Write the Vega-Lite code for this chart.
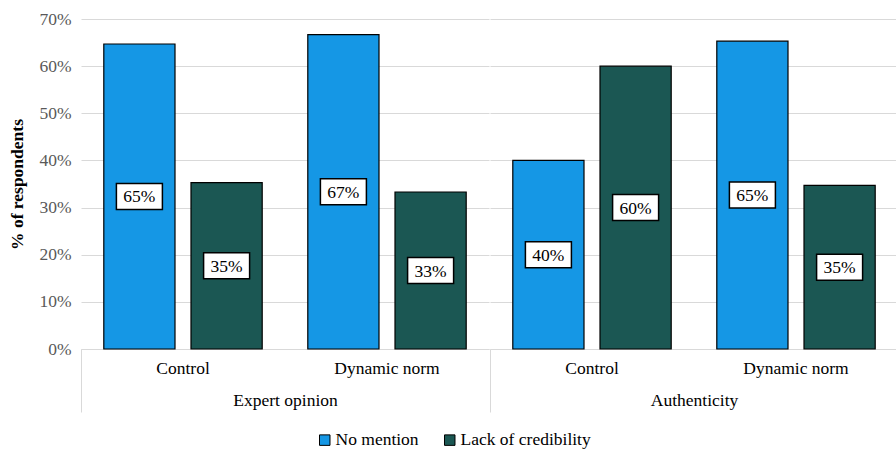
{
  "$schema": "https://vega.github.io/schema/vega-lite/v6.json",
  "padding": {"left": 8, "top": 10, "right": 0, "bottom": 5},
  "background": "white",
  "spacing": 0,
  "config": {
    "font": "Liberation Serif",
    "view": {"stroke": null},
    "axis": {"labelFont": "Liberation Serif", "titleFont": "Liberation Serif"},
    "legend": {"layout": {"bottom": {"anchor": "middle"}}}
  },
  "datasets": {
    "survey": [
      {"group": "Expert opinion", "condition": "Control", "series": "No mention", "value": 0.647, "label": "65%"},
      {"group": "Expert opinion", "condition": "Control", "series": "Lack of credibility", "value": 0.353, "label": "35%"},
      {"group": "Expert opinion", "condition": "Dynamic norm", "series": "No mention", "value": 0.667, "label": "67%"},
      {"group": "Expert opinion", "condition": "Dynamic norm", "series": "Lack of credibility", "value": 0.333, "label": "33%"},
      {"group": "Authenticity", "condition": "Control", "series": "No mention", "value": 0.4, "label": "40%"},
      {"group": "Authenticity", "condition": "Control", "series": "Lack of credibility", "value": 0.6, "label": "60%"},
      {"group": "Authenticity", "condition": "Dynamic norm", "series": "No mention", "value": 0.653, "label": "65%"},
      {"group": "Authenticity", "condition": "Dynamic norm", "series": "Lack of credibility", "value": 0.347, "label": "35%"}
    ]
  },
  "data": {"name": "survey"},
  "hconcat": [
    {
      "width": 408,
      "height": 330,
      "transform": [{"filter": "datum.group === 'Expert opinion'"}],
      "encoding": {
        "x": {
          "field": "condition",
          "type": "nominal",
          "sort": ["Control", "Dynamic norm"],
          "scale": {"paddingInner": 0, "paddingOuter": 0},
          "axis": {
            "title": "Expert opinion",
            "titleFontSize": 17.5,
            "titleFontWeight": "normal",
            "titleColor": "black",
            "titlePadding": -21,
            "labelAngle": 0,
            "labelFontSize": 17.5,
            "labelColor": "black",
            "domainColor": "#d9d9d9",
            "bandPosition": 0,
            "tickSize": 63,
            "tickColor": {"condition": {"test": "datum.value === 'Control'", "value": "#d9d9d9"}, "value": "transparent"},
            "labelPadding": -53,
            "labelBaseline": "top"
          }
        },
        "xOffset": {
          "field": "series",
          "type": "nominal",
          "sort": ["No mention", "Lack of credibility"],
          "scale": {"paddingInner": 0.1835, "paddingOuter": 0.2615}
        }
      },
      "layer": [
        {
          "mark": {"type": "bar", "stroke": "black", "strokeWidth": 1.2},
          "encoding": {
            "y": {
              "field": "value",
              "type": "quantitative",
              "scale": {"domain": [0, 0.7]},
              "axis": {
                "title": "% of respondents",
                "titleFontSize": 17.5,
                "titleFontWeight": "bold",
                "titleColor": "black",
                "titlePadding": 12,
                "format": ".0%",
                "values": [0, 0.1, 0.2, 0.3, 0.4, 0.5, 0.6, 0.7],
                "labelFontSize": 17.5,
                "labelColor": "#595959",
                "labelPadding": 10,
                "ticks": false,
                "domain": false,
                "gridColor": "#d9d9d9",
                "gridWidth": 1
              }
            },
            "color": {
              "field": "series",
              "type": "nominal",
              "sort": ["No mention", "Lack of credibility"],
              "scale": {"domain": ["No mention", "Lack of credibility"], "range": ["#1597e5", "#1b5753"]},
              "legend": {
                "title": null,
                "orient": "bottom",
                "direction": "horizontal",
                "symbolType": "square",
                "symbolSize": 110,
                "symbolStrokeColor": "black",
                "symbolStrokeWidth": 1,
                "symbolOpacity": 1,
                "labelFont": "Liberation Serif",
                "labelFontSize": 17.5,
                "labelColor": "black",
                "labelOffset": 2,
                "columnPadding": 22,
                "offset": 18
              }
            }
          }
        },
        {
          "mark": {"type": "point", "shape": "M-1,-0.565H1V0.565H-1Z", "size": 2116, "filled": true, "fill": "white", "stroke": "black", "strokeWidth": 1.5, "opacity": 1},
          "encoding": {
            "y": {"field": "value", "type": "quantitative", "scale": {"domain": [0, 1.4]}, "axis": null}
          }
        },
        {
          "mark": {"type": "text", "font": "Liberation Serif", "fontSize": 17.5, "color": "black", "baseline": "middle", "dy": 1},
          "encoding": {
            "y": {"field": "value", "type": "quantitative", "scale": {"domain": [0, 1.4]}, "axis": null},
            "text": {"field": "label"}
          }
        }
      ],
      "resolve": {"scale": {"y": "independent"}}
    },
    {
      "width": 408,
      "height": 330,
      "transform": [{"filter": "datum.group === 'Authenticity'"}],
      "encoding": {
        "x": {
          "field": "condition",
          "type": "nominal",
          "sort": ["Control", "Dynamic norm"],
          "scale": {"paddingInner": 0, "paddingOuter": 0},
          "axis": {
            "title": "Authenticity",
            "titleFontSize": 17.5,
            "titleFontWeight": "normal",
            "titleColor": "black",
            "titlePadding": -21,
            "labelAngle": 0,
            "labelFontSize": 17.5,
            "labelColor": "black",
            "domainColor": "#d9d9d9",
            "bandPosition": 0,
            "tickSize": 63,
            "tickColor": {"condition": {"test": "datum.value === 'Control'", "value": "#d9d9d9"}, "value": "transparent"},
            "labelPadding": -53,
            "labelBaseline": "top"
          }
        },
        "xOffset": {
          "field": "series",
          "type": "nominal",
          "sort": ["No mention", "Lack of credibility"],
          "scale": {"paddingInner": 0.1835, "paddingOuter": 0.2615}
        }
      },
      "layer": [
        {
          "mark": {"type": "bar", "stroke": "black", "strokeWidth": 1.2},
          "encoding": {
            "y": {
              "field": "value",
              "type": "quantitative",
              "scale": {"domain": [0, 0.7]},
              "axis": {
                "title": null,
                "labels": false,
                "ticks": false,
                "domain": false,
                "labelPadding": 0,
                "values": [0, 0.1, 0.2, 0.3, 0.4, 0.5, 0.6, 0.7],
                "gridColor": "#d9d9d9",
                "gridWidth": 1
              }
            },
            "color": {
              "field": "series",
              "type": "nominal",
              "sort": ["No mention", "Lack of credibility"],
              "scale": {"domain": ["No mention", "Lack of credibility"], "range": ["#1597e5", "#1b5753"]},
              "legend": null
            }
          }
        },
        {
          "mark": {"type": "point", "shape": "M-1,-0.565H1V0.565H-1Z", "size": 2116, "filled": true, "fill": "white", "stroke": "black", "strokeWidth": 1.5, "opacity": 1},
          "encoding": {
            "y": {"field": "value", "type": "quantitative", "scale": {"domain": [0, 1.4]}, "axis": null}
          }
        },
        {
          "mark": {"type": "text", "font": "Liberation Serif", "fontSize": 17.5, "color": "black", "baseline": "middle", "dy": 1},
          "encoding": {
            "y": {"field": "value", "type": "quantitative", "scale": {"domain": [0, 1.4]}, "axis": null},
            "text": {"field": "label"}
          }
        }
      ],
      "resolve": {"scale": {"y": "independent"}}
    }
  ]
}
